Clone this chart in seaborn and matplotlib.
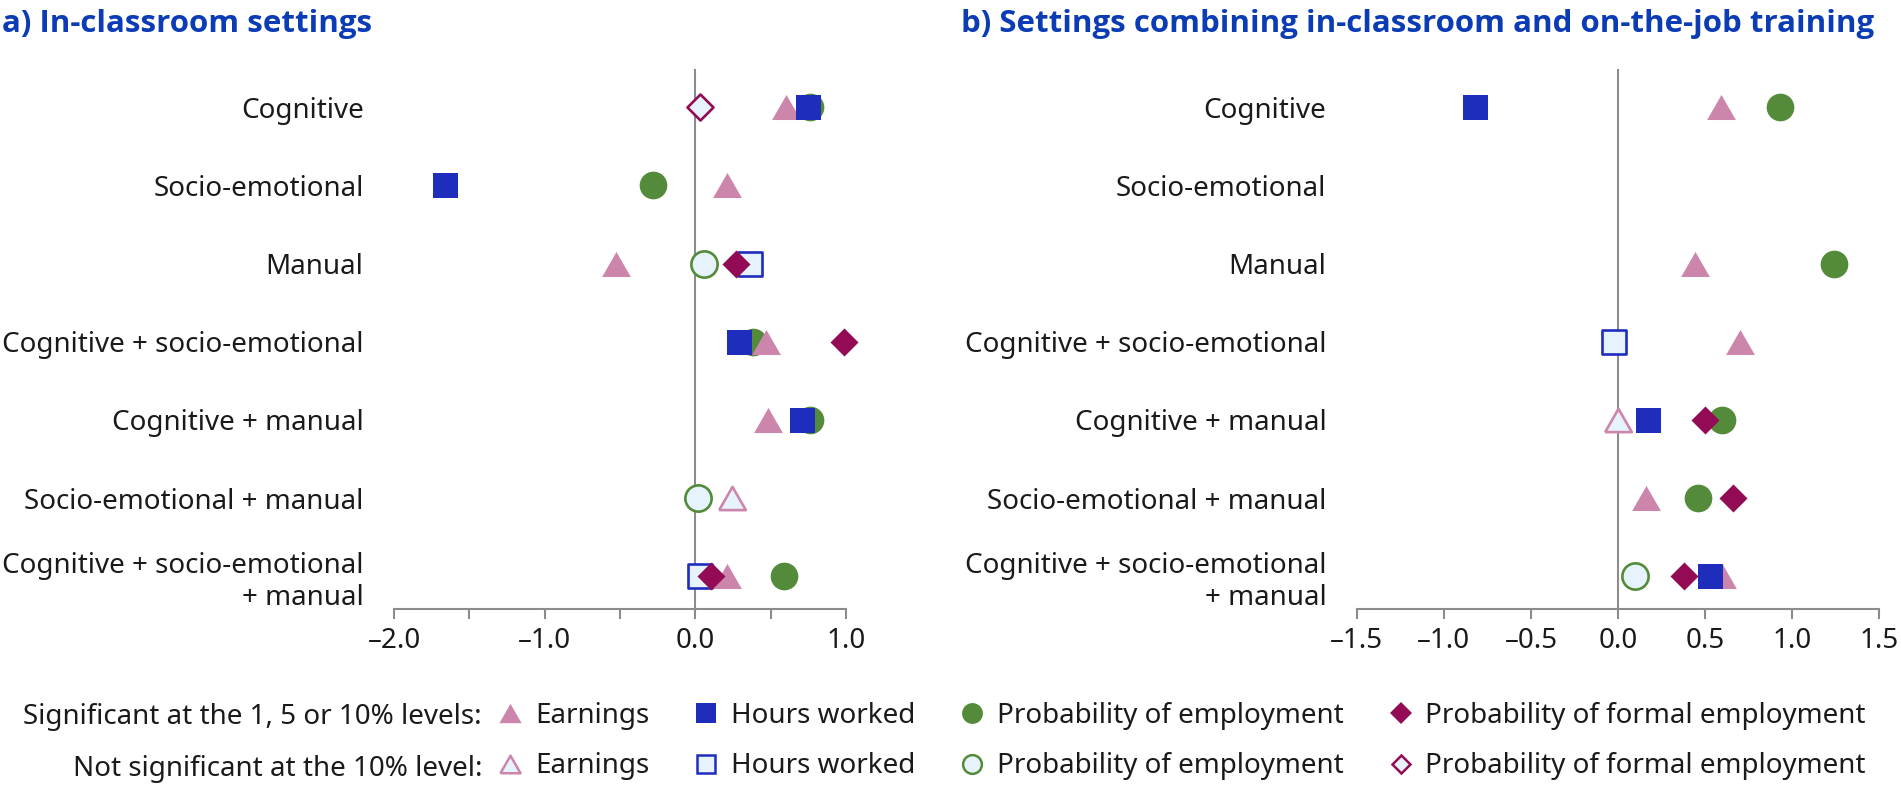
import numpy as np
import pandas as pd
import matplotlib
matplotlib.use("Agg")
import matplotlib.pyplot as plt
from matplotlib.lines import Line2D
import seaborn as sns

# categories (top to bottom)
categories = ["Cognitive", "Socio-emotional", "Manual", "Cognitive + socio-emotional",
              "Cognitive + manual", "Socio-emotional + manual",
              "Cognitive + socio-emotional\n+ manual"]
outcomes = ["Earnings", "Hours worked", "Probability of employment",
            "Probability of formal employment"]
nan = np.nan

# a) In-classroom settings  (sig: 1 = significant, 0 = not significant)
a_earnings = [0.60, 0.21, -0.53, 0.47, 0.48, 0.24, 0.21]
a_earnings_sig = [1, 1, 1, 1, 1, 0, 1]
a_hours = [0.75, -1.66, 0.36, 0.29, 0.71, nan, 0.03]
a_hours_sig = [1, 1, 0, 1, 1, 0, 0]
a_employment = [0.76, -0.28, 0.06, 0.38, 0.76, 0.02, 0.59]
a_employment_sig = [1, 1, 0, 1, 1, 0, 1]
a_formal = [0.03, nan, 0.27, 0.985, nan, nan, 0.10]
a_formal_sig = [0, 0, 1, 1, 0, 0, 1]

# b) Settings combining in-classroom and on-the-job training
b_earnings = [0.59, nan, 0.44, 0.70, 0.0, 0.16, 0.60]
b_earnings_sig = [1, 0, 1, 1, 0, 1, 1]
b_hours = [-0.82, nan, nan, -0.02, 0.17, nan, 0.53]
b_hours_sig = [1, 0, 0, 0, 1, 0, 1]
b_employment = [0.93, nan, 1.24, nan, 0.60, 0.46, 0.10]
b_employment_sig = [1, 0, 1, 0, 1, 1, 0]
b_formal = [nan, nan, nan, nan, 0.50, 0.66, 0.38]
b_formal_sig = [0, 0, 0, 0, 1, 1, 1]

a_ticks = [-2.0, -1.5, -1.0, -0.5, 0.0, 0.5, 1.0]
a_ticklabels = ["–2.0", "", "–1.0", "", "0.0", "", "1.0"]
b_ticks = [-1.5, -1.0, -0.5, 0.0, 0.5, 1.0, 1.5]
b_ticklabels = ["–1.5", "–1.0", "–0.5", "0.0", "0.5", "1.0", "1.5"]

titles = ["a) In-classroom settings",
          "b) Settings combining in-classroom and on-the-job training"]
row_labels = ["Significant at the 1, 5 or 10% levels:", "Not significant at the 10% level:"]

# long table
rows = []
panels = {
    "a": [a_earnings, a_hours, a_employment, a_formal],
    "b": [b_earnings, b_hours, b_employment, b_formal],
}
sigs = {
    "a": [a_earnings_sig, a_hours_sig, a_employment_sig, a_formal_sig],
    "b": [b_earnings_sig, b_hours_sig, b_employment_sig, b_formal_sig],
}
for p in panels:
    for outc, vals, ss in zip(outcomes, panels[p], sigs[p]):
        for i, (v, s) in enumerate(zip(vals, ss)):
            if not np.isnan(v):
                rows.append({"panel": p, "outcome": outc, "row": i, "value": v, "sig": bool(s)})
df = pd.DataFrame(rows)

tri = [(-1, -0.87), (1, -0.87), (0, 0.87), (-1, -0.87)]
style = {
    "Earnings": dict(marker=tri, s=430, s_open=370, color="#cc86ab"),
    "Hours worked": dict(marker="s", s=324, s_open=280, color="#1f2dbd"),
    "Probability of employment": dict(marker="o", s=397, s_open=358, color="#548b3b"),
    "Probability of formal employment": dict(marker="D", s=204, s_open=175, color="#930b55"),
}
open_fill = "#e6f3fc"
grey = "#8c8c8c"
txt = "#1a1a1a"

sns.set_theme(style="white")
plt.rcParams["font.family"] = ["Noto Sans", "DejaVu Sans"]
fs = 20

fig = plt.figure(figsize=(19.01, 7.87), dpi=100)
ax_a = fig.add_axes([0.2073, 0.2262, 0.2378, 0.6861])
ax_b = fig.add_axes([0.7138, 0.2262, 0.2746, 0.6861])

draw_order = ["Probability of employment", "Earnings", "Hours worked",
              "Probability of formal employment"]

for ax, p, ticks, tlabels, lim in [(ax_a, "a", a_ticks, a_ticklabels, (-2.0, 1.0)),
                                   (ax_b, "b", b_ticks, b_ticklabels, (-1.5, 1.5))]:
    ax.axvline(0, color=grey, lw=1.5, zorder=1)
    for outc in draw_order:
        st = style[outc]
        for sig in [True, False]:
            sub = df[(df.panel == p) & (df.outcome == outc) & (df.sig == sig)]
            if sub.empty:
                continue
            if sig:
                sns.scatterplot(data=sub, x="value", y="row", ax=ax, marker=st["marker"],
                                s=st["s"], color=st["color"], linewidth=0, zorder=3,
                                clip_on=False)
            else:
                sns.scatterplot(data=sub, x="value", y="row", ax=ax, marker=st["marker"],
                                s=st["s_open"], color=open_fill, edgecolor=st["color"],
                                linewidth=1.9, zorder=3, clip_on=False)
    ax.set_xlim(*lim)
    ax.set_ylim(6.42, -0.49)
    ax.set_xticks(ticks)
    ax.set_xticklabels(tlabels)
    ax.set_yticks(range(len(categories)))
    ax.set_yticklabels(categories)
    ax.set_xlabel("")
    ax.set_ylabel("")
    for sp in ["left", "right", "top"]:
        ax.spines[sp].set_visible(False)
    ax.spines["bottom"].set_color(grey)
    ax.spines["bottom"].set_linewidth(1.5)
    ax.tick_params(axis="x", bottom=True, direction="out", length=7, width=1.5,
                   color=grey, labelsize=fs, labelcolor=txt, pad=6)
    ax.tick_params(axis="y", length=0, labelsize=fs, labelcolor=txt, pad=22)
    ax.set_facecolor("none")

title_color = "#0b3cb5"
fig.text(0.001, 0.959, titles[0], fontsize=22.5, fontweight="bold", color=title_color,
         va="baseline", ha="left", family=["Open Sans", "Noto Sans", "DejaVu Sans"])
fig.text(961 / 1901, 0.959, titles[1], fontsize=22.5, fontweight="bold", color=title_color,
         va="baseline", ha="left", family=["Open Sans", "Noto Sans", "DejaVu Sans"])

# legend
handles, labels = [], []
for outc in outcomes:
    st = style[outc]
    ms = {"Earnings": 16, "Hours worked": 14, "Probability of employment": 15,
          "Probability of formal employment": 11}[outc]
    handles.append(Line2D([], [], ls="", marker=st["marker"], markersize=ms,
                          markerfacecolor=st["color"], markeredgewidth=0))
    labels.append(outc)
    handles.append(Line2D([], [], ls="", marker=st["marker"], markersize=ms - 1.5,
                          markerfacecolor=open_fill, markeredgecolor=st["color"],
                          markeredgewidth=1.8))
    labels.append(outc)
fig.legend(handles, labels, ncol=4, loc="upper left", bbox_to_anchor=(0.2612, 0.108),
           frameon=False, fontsize=fs, handlelength=1.0, handletextpad=0.38,
           columnspacing=1.56, labelspacing=0.8, borderpad=0, borderaxespad=0,
           labelcolor=txt)
fig.text(482 / 1901, 1 - 717 / 787, row_labels[0], ha="right", va="center",
         fontsize=fs, color=txt)
fig.text(482 / 1901, 1 - 769 / 787, row_labels[1], ha="right", va="center",
         fontsize=fs, color=txt)

fig.savefig("out.png", dpi=100, facecolor="white")
